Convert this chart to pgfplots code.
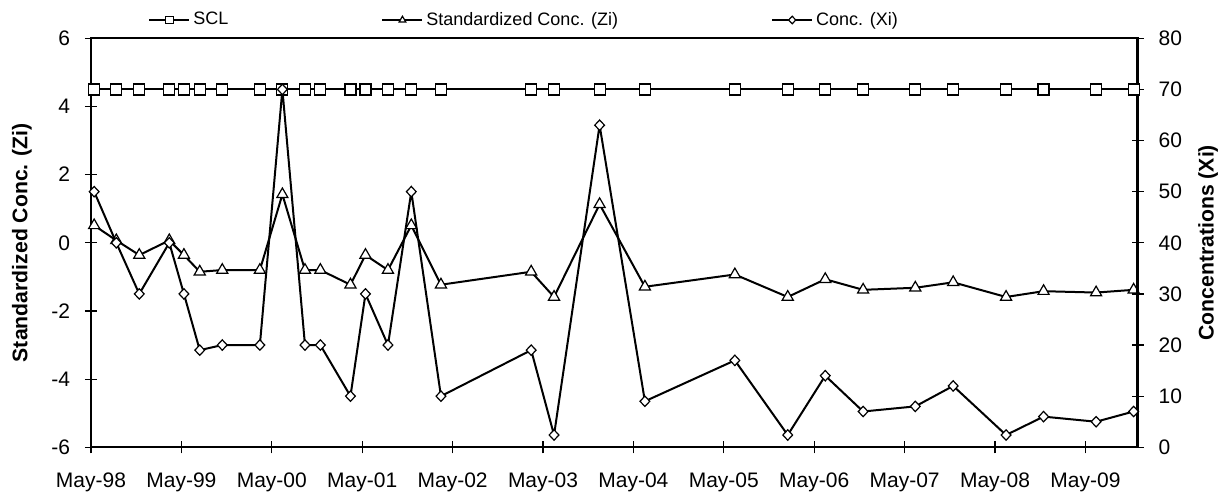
\documentclass[border=0pt]{standalone}
\usepackage{pgfplots}
\pgfplotsset{compat=1.18}
\usepackage{pgfplotstable}
\usepackage{fontspec}
\setmainfont{Liberation Sans}
\usetikzlibrary{calc}

\pgfplotstableread{
t Z X S
0.035 0.51 50 70
0.280 0.07 40 70
0.534 -0.36 30 70
0.866 0.07 40 70
1.028 -0.36 30 70
1.203 -0.85 19 70
1.452 -0.80 20 70
1.868 -0.80 20 70
2.117 1.42 70 70
2.367 -0.80 20 70
2.537 -0.80 20 70
2.870 -1.23 10 70
3.036 -0.36 30 70
3.285 -0.80 20 70
3.543 0.51 50 70
3.871 -1.23 10 70
4.869 -0.85 19 70
5.122 -1.59 2.4 70
5.626 1.13 63 70
6.127 -1.29 9 70
7.122 -0.93 17 70
7.707 -1.59 2.4 70
8.122 -1.07 14 70
8.541 -1.38 7 70
9.118 -1.32 8 70
9.537 -1.16 12 70
10.122 -1.59 2.4 70
10.537 -1.42 6 70
11.118 -1.46 5 70
11.533 -1.38 7 70
}\data

\begin{document}
\begin{tikzpicture}
\pgfplotsset{
  every axis/.append style={
    scale only axis, width=523.25pt, height=204.5pt,
    xmin=0, xmax=11.576,
    /pgf/number format/assume math mode=true,
    tick label style={font=\fontsize{10.5}{12}\selectfont},
    label style={font=\fontsize{10.6}{12}\selectfont\bfseries},
    tick align=center, major tick length=6pt,
    tick style={black, line width=0.6pt},
    axis line style={line width=1.1pt},
  },
  zline/.style={black, line width=1pt, mark=triangle*, mark size=3.2pt, mark options={fill=white, line width=0.6pt}},
  xline/.style={black, line width=1pt, mark=diamond*, mark size=2.6pt, mark options={fill=white, line width=0.6pt, xscale=1.25}},
  sline/.style={black, line width=1pt, mark=square*, mark size=2.75pt, mark options={fill=white, line width=0.6pt}},
}
\begin{axis}[
  ymin=-6, ymax=6, ytick={-6,-4,...,6},
  xtick={0,1,...,11},
  xticklabels={May-98,May-99,May-00,May-01,May-02,May-03,May-04,May-05,May-06,May-07,May-08,May-09},
  xtick pos=left, ytick pos=left,
  xticklabel style={yshift=-6pt},
  yticklabel style={xshift=-4pt},
  ylabel={Standardized Conc. (Zi)},
  ylabel style={at={(axis description cs:-0.066,0.5)}, anchor=center},
]
\addplot[zline] table[x=t,y=Z]{\data};
\coordinate (sw) at (rel axis cs:0,0);
\coordinate (ne) at (rel axis cs:1,1);
\end{axis}
\begin{axis}[
  ymin=0, ymax=80, ytick={0,10,...,80},
  axis y line*=right, axis x line=none,
  yticklabel style={xshift=4pt},
  ylabel={Concentrations (Xi)},
  ylabel style={at={(axis description cs:1.0674,0.5)}, anchor=center, rotate=0},
  legend columns=3,
  legend style={at={(axis description cs:0.0545,1.0447)}, anchor=west, draw=none, fill=none,
    font=\fontsize{9}{11}\selectfont, inner sep=0pt,
    nodes={inner sep=1.5pt},
    /tikz/every even column/.append style={column sep=75pt}},
  legend image code/.code={\draw[mark repeat=2,mark phase=2,#1,mark size=1.9pt] plot coordinates {(0pt,0pt) (10pt,0pt) (20pt,0pt)};},
]
\addplot[sline] table[x=t,y=S]{\data};
\addlegendentry{SCL}
\addlegendimage{zline}
\addlegendentry{Standardized Conc. (Zi)}
\addplot[xline] table[x=t,y=X]{\data};
\addlegendentry{Conc. (Xi)}
\end{axis}
\pgfresetboundingbox
\path ($(sw)+(-45.5pt,-23.35pt)$) rectangle ($(ne)+(41.25pt,19.15pt)$);
\end{tikzpicture}
\end{document}
